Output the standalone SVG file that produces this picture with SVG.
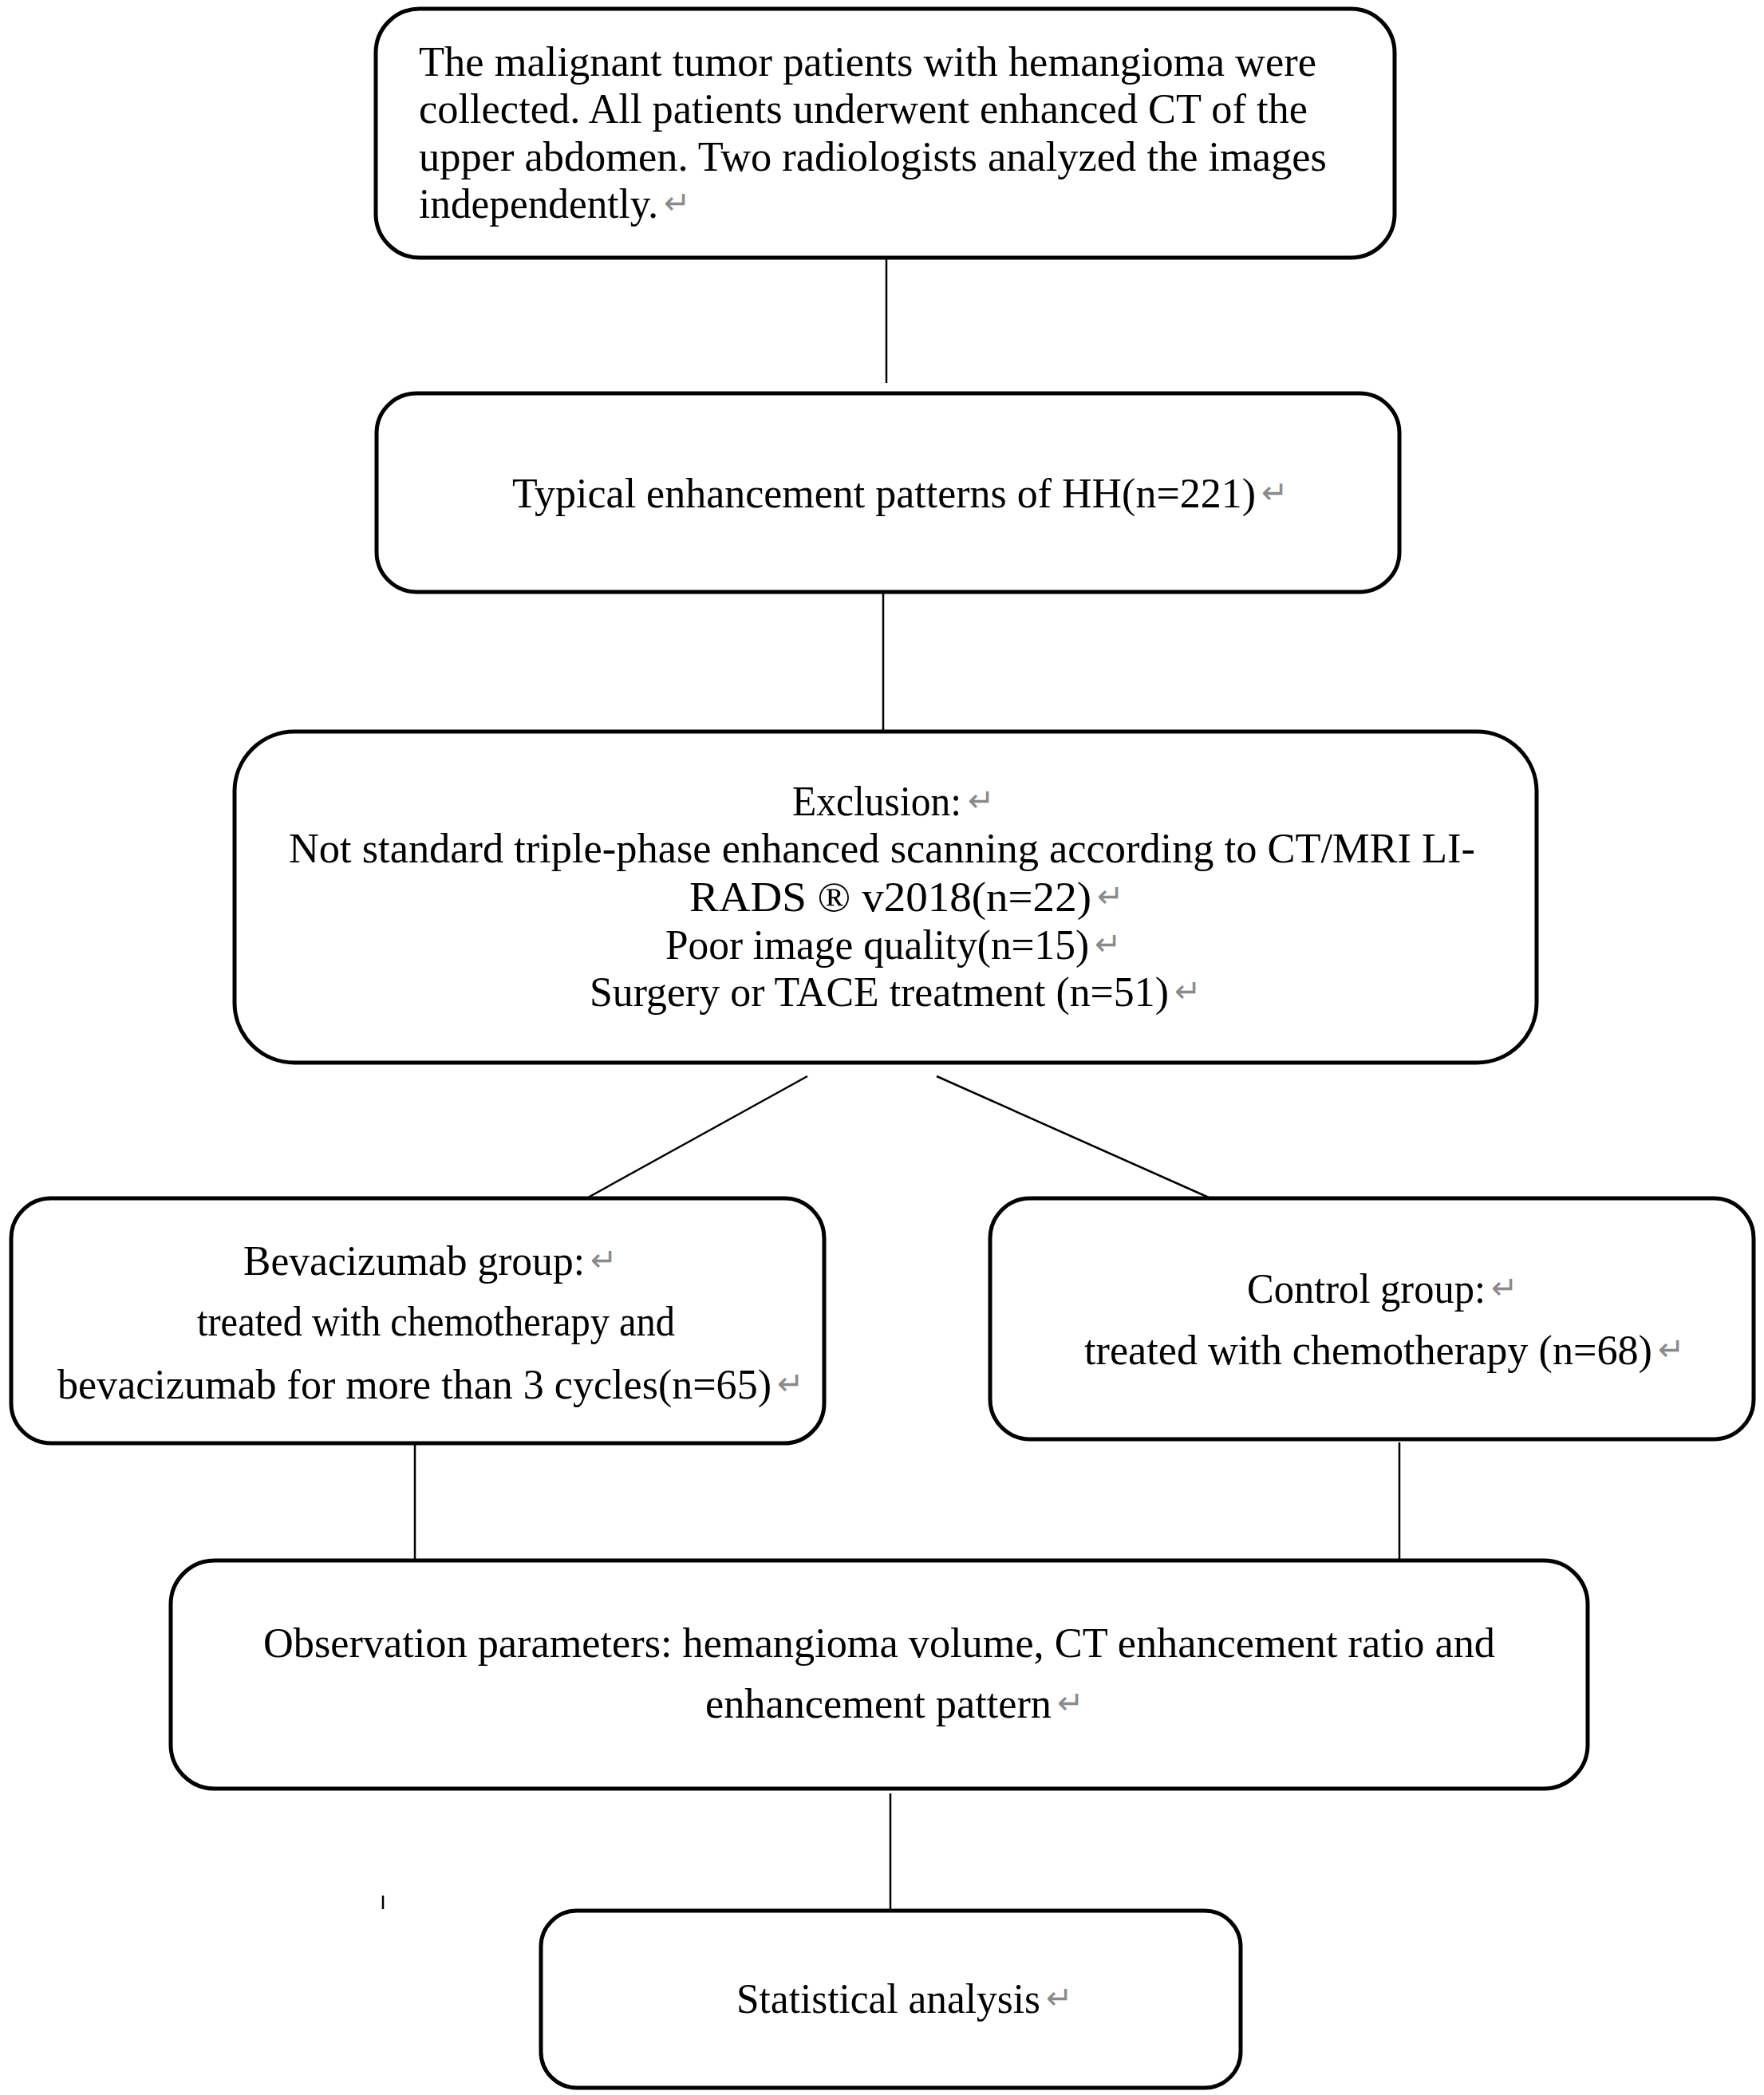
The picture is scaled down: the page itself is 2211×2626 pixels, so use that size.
<svg xmlns="http://www.w3.org/2000/svg" width="2211" height="2626" viewBox="0 0 2211 2626">
<style>
.box{fill:#fff;stroke:#000;stroke-width:5}
.con{stroke:#000;stroke-width:2.5;fill:none}
.t{font-family:"Liberation Serif","Times New Roman",serif;font-size:52px;fill:#000}
.r{font-family:"DejaVu Sans",sans-serif;font-size:40px;fill:#8a8a8a}
</style>
<rect width="2211" height="2626" fill="#fff"/>
<g id="connectors">
<line class="con" x1="1111" y1="323" x2="1111" y2="480"/>
<line class="con" x1="1107" y1="742" x2="1107" y2="915"/>
<line class="con" x1="1012" y1="1349" x2="737" y2="1501"/>
<line class="con" x1="1174" y1="1349" x2="1515" y2="1501"/>
<line class="con" x1="520" y1="1811" x2="520" y2="1955"/>
<line class="con" x1="1754" y1="1808" x2="1754" y2="1955"/>
<line class="con" x1="1116" y1="2248" x2="1116" y2="2394"/>
<line class="con" x1="480" y1="2376" x2="480" y2="2393" stroke-width="2"/>
</g>
<g id="node1">
<rect class="box" x="471" y="11" width="1277" height="312" rx="55"/>
<text class="t" x="525" y="95" textLength="1125" lengthAdjust="spacingAndGlyphs">The malignant tumor patients with hemangioma were</text>
<text class="t" x="525" y="154" textLength="1114" lengthAdjust="spacingAndGlyphs">collected. All patients underwent enhanced CT of the</text>
<text class="t" x="525" y="214" textLength="1138" lengthAdjust="spacingAndGlyphs">upper abdomen. Two radiologists analyzed the images</text>
<text class="t" x="525" y="273" textLength="300" lengthAdjust="spacingAndGlyphs">independently.</text>
<text class="r" x="832" y="268">↵</text>
</g>
<g id="node2">
<rect class="box" x="472" y="493" width="1282" height="249" rx="50"/>
<text class="t" x="642" y="636" textLength="932" lengthAdjust="spacingAndGlyphs">Typical enhancement patterns of HH(n=221)</text>
<text class="r" x="1581" y="631">↵</text>
</g>
<g id="node3">
<rect class="box" x="294" y="917" width="1632" height="415" rx="75"/>
<text class="t" x="993" y="1022" textLength="212" lengthAdjust="spacingAndGlyphs">Exclusion:</text>
<text class="r" x="1213" y="1017">↵</text>
<text class="t" x="362" y="1081" textLength="1487" lengthAdjust="spacingAndGlyphs">Not standard triple-phase enhanced scanning according to CT/MRI LI-</text>
<text class="t" x="864" y="1142" textLength="504" lengthAdjust="spacingAndGlyphs">RADS ® v2018(n=22)</text>
<text class="r" x="1375" y="1137">↵</text>
<text class="t" x="834" y="1202" textLength="531" lengthAdjust="spacingAndGlyphs">Poor image quality(n=15)</text>
<text class="r" x="1372" y="1197">↵</text>
<text class="t" x="739" y="1261" textLength="726" lengthAdjust="spacingAndGlyphs">Surgery or TACE treatment (n=51)</text>
<text class="r" x="1472" y="1256">↵</text>
</g>
<g id="node4">
<rect class="box" x="14" y="1502" width="1019" height="307" rx="50"/>
<text class="t" x="305" y="1598" textLength="428" lengthAdjust="spacingAndGlyphs">Bevacizumab group:</text>
<text class="r" x="740" y="1593">↵</text>
<text class="t" x="247" y="1674" textLength="599" lengthAdjust="spacingAndGlyphs">treated with chemotherapy and</text>
<text class="t" x="72" y="1753" textLength="895" lengthAdjust="spacingAndGlyphs">bevacizumab for more than 3 cycles(n=65)</text>
<text class="r" x="974" y="1748">↵</text>
</g>
<g id="node5">
<rect class="box" x="1241" y="1502" width="957" height="302" rx="50"/>
<text class="t" x="1563" y="1633" textLength="299" lengthAdjust="spacingAndGlyphs">Control group:</text>
<text class="r" x="1869" y="1628">↵</text>
<text class="t" x="1359" y="1710" textLength="712" lengthAdjust="spacingAndGlyphs">treated with chemotherapy (n=68)</text>
<text class="r" x="2078" y="1705">↵</text>
</g>
<g id="node6">
<rect class="box" x="214" y="1956" width="1776" height="286" rx="55"/>
<text class="t" x="330" y="2077" textLength="1544" lengthAdjust="spacingAndGlyphs">Observation parameters: hemangioma volume, CT enhancement ratio and</text>
<text class="t" x="884" y="2153" textLength="434" lengthAdjust="spacingAndGlyphs">enhancement pattern</text>
<text class="r" x="1325" y="2148">↵</text>
</g>
<g id="node7">
<rect class="box" x="678" y="2395" width="877" height="222" rx="45"/>
<text class="t" x="923" y="2523" textLength="381" lengthAdjust="spacingAndGlyphs">Statistical analysis</text>
<text class="r" x="1311" y="2518">↵</text>
</g>
</svg>
